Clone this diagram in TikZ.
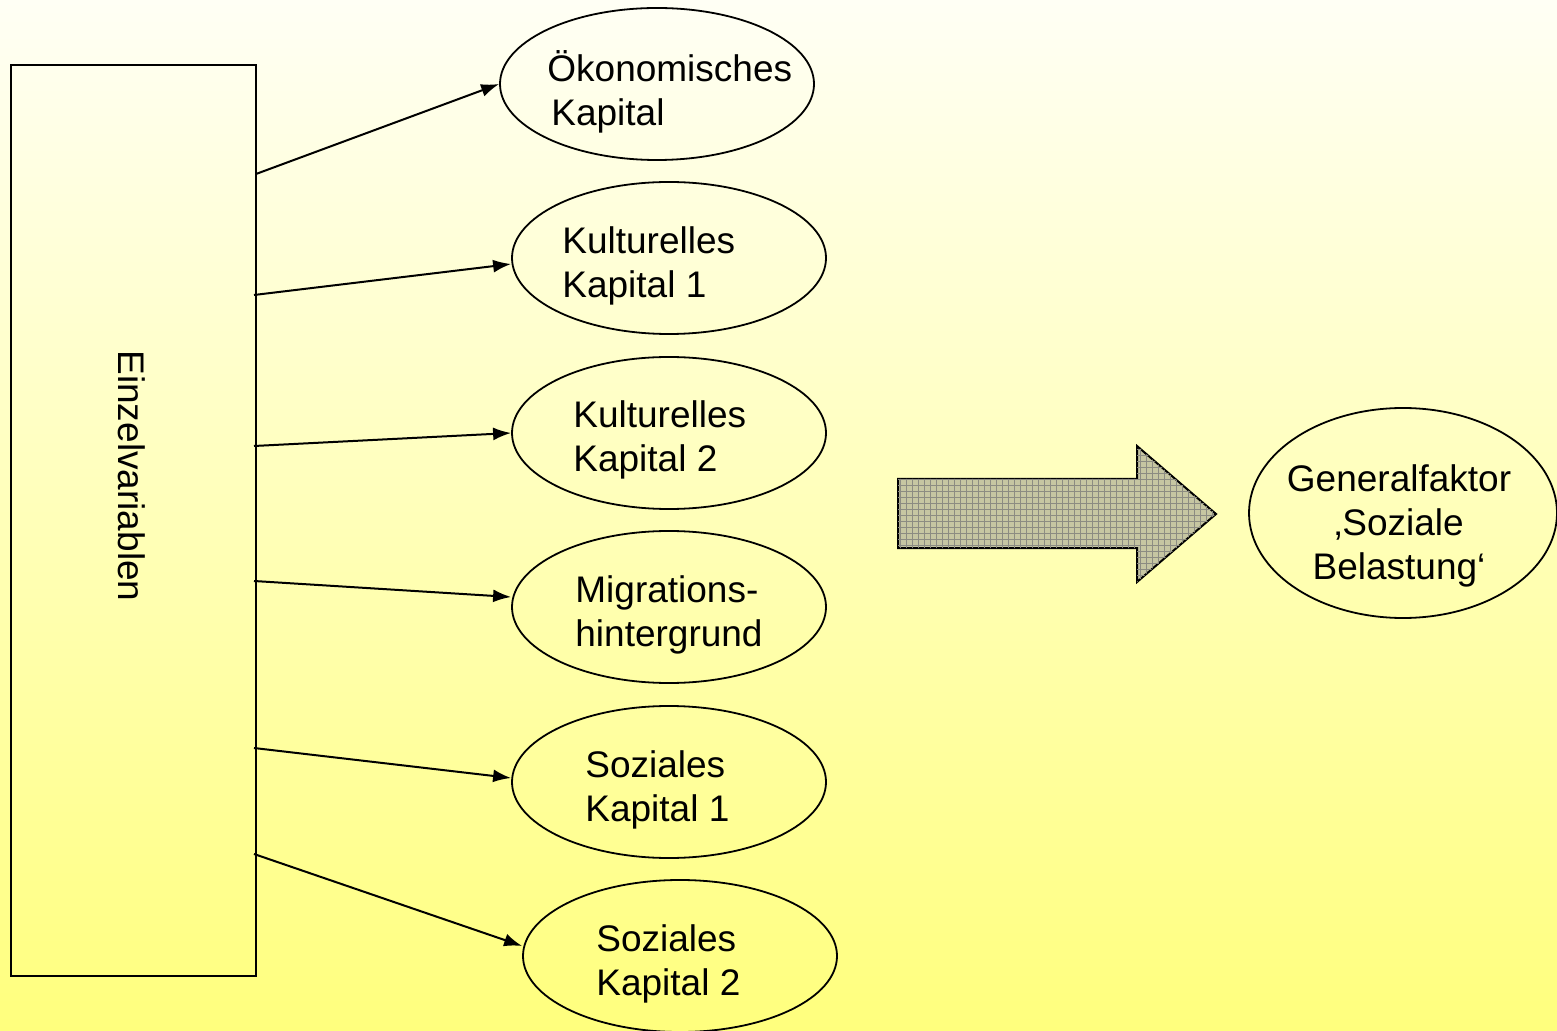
\documentclass[tikz,border=0pt]{standalone}
\usepackage{fontspec}
\setmainfont{Liberation Sans}
\usetikzlibrary{arrows.meta,shapes.geometric,patterns,calc}
\definecolor{bgtop}{RGB}{255,255,245}
\definecolor{bgbottom}{RGB}{255,255,125}
\definecolor{arrowfill}{RGB}{198,198,162}
\definecolor{gridgray}{RGB}{140,140,130}
\tikzset{%
  kapital/.style = {shape=ellipse, draw, line width=0.9pt,%
                    minimum width=157pt, minimum height=76pt,%
                    inner sep=0pt},%
  faktor/.style  = {kapital, minimum width=154pt, minimum height=105pt},%
  kaptext/.style = {anchor=west, align=left, inner sep=0pt},%
  pfeil/.style   = {line width=1pt, -{Latex[length=9pt,width=6.5pt]}}%
}

\begin{document}
\begin{tikzpicture}
[x=0.5pt,y=-0.5pt,every node/.style={font=\fontsize{18.5}{22}\selectfont}]
	\fill [top color=bgtop,bottom color=bgbottom] (0,0) rectangle (1557,1031);
	\useasboundingbox (0,0) rectangle (1557,1031);
	\node [draw,line width=1pt,minimum width=122.5pt,minimum height=455.5pt,inner sep=0pt]
		(box) at (133.5,520.5) {};
	\node [rotate=-90] (einzel) at (132,476) {Einzelvariablen};
	\node [kapital] (Oek)   at (657,84)  {};
	\node [kapital] (Kult1) at (669,258) {};
	\node [kapital] (Kult2) at (669,433) {};
	\node [kapital] (Migr)  at (669,607) {};
	\node [kapital] (Soz1)  at (669,782) {};
	\node [kapital] (Soz2)  at (680,956) {};
	\node [faktor]  (Gen)   at (1403,513) {};
	\node [kaptext] (OekT)   at ($(Oek.center)+(-110,8)$)  {Ökonomisches\\\hspace{2pt}Kapital};
	\node [kaptext] (Kult1T) at ($(Kult1.center)+(-107,8)$) {Kulturelles\\Kapital 1};
	\node [kaptext] (Kult2T) at ($(Kult2.center)+(-96,7)$)  {Kulturelles\\Kapital 2};
	\node [kaptext] (MigrT)  at ($(Migr.center)+(-94,8)$)   {Migrations-\\hintergrund};
	\node [kaptext] (Soz1T)  at ($(Soz1.center)+(-84,8)$)   {Soziales\\Kapital 1};
	\node [kaptext] (Soz2T)  at ($(Soz2.center)+(-84,8)$)   {Soziales\\Kapital 2};
	\node [align=center,inner sep=0pt] (GenT) at ($(Gen.center)+(-4,13)$)
		{Generalfaktor\\‚Soziale\\Belastung‘};
	\coordinate (s1) at (256,174);
	\coordinate (s2) at (254,295);
	\coordinate (s3) at (254,446);
	\coordinate (s4) at (254,581);
	\coordinate (s5) at (254,748);
	\coordinate (s6) at (254,854);
	\draw [pfeil] (s1) -- (Oek.west);
	\draw [pfeil] (s2) -- ([yshift=-3pt]Kult1.west);
	\draw [pfeil] (s3) -- (Kult2.west);
	\draw [pfeil] (s4) -- ([yshift=5pt]Migr.west);
	\draw [pfeil] (s5) -- ([yshift=2pt]Soz1.west);
	\draw [pfeil] (s6) -- ([yshift=5pt]Soz2.west);
	% grosser Pfeil
	\draw [line width=1pt,fill=arrowfill,
		postaction={pattern=grid,pattern color=gridgray}]
		(898,479) -- (1137,479) -- (1137,446) -- (1216,514)
		-- (1137,582) -- (1137,548) -- (898,548) -- cycle;
\end{tikzpicture}
\end{document}
